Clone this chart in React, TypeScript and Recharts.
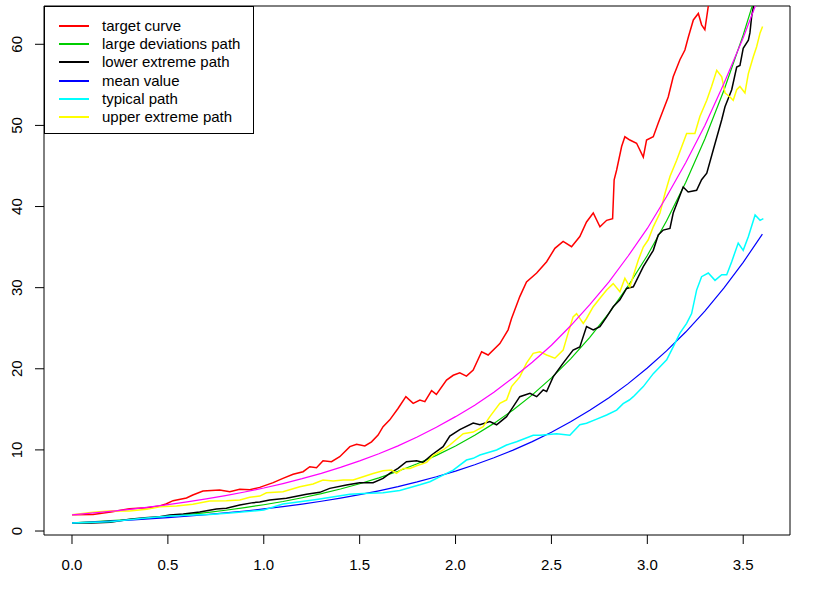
import { LineChart, Line, XAxis, YAxis, ReferenceLine, Legend } from "recharts";

// axis ranges (R style 4% padding around the data)
const X_MIN = -0.146;
const X_MAX = 3.744;
const Y_MIN = -0.49;
const Y_MAX = 64.72;
const X_TICKS = [0, 0.5, 1, 1.5, 2, 2.5, 3, 3.5];
const Y_TICKS = [0, 10, 20, 30, 40, 50, 60];

// smooth curves, read on a 0.1 grid
const tGrid = [0, 0.1, 0.2, 0.3, 0.4, 0.5, 0.6, 0.7, 0.8, 0.9, 1.0, 1.1, 1.2, 1.3, 1.4, 1.5, 1.6, 1.7, 1.8, 1.9, 2.0, 2.1, 2.2, 2.3, 2.4, 2.5, 2.6, 2.7, 2.8, 2.9, 3.0, 3.1, 3.2, 3.3, 3.4, 3.5, 3.6];
const meanValue = [1.0, 1.11, 1.22, 1.35, 1.49, 1.65, 1.82, 2.01, 2.23, 2.46, 2.72, 3.0, 3.32, 3.67, 4.06, 4.48, 4.95, 5.47, 6.05, 6.69, 7.39, 8.17, 9.03, 9.97, 11.02, 12.18, 13.46, 14.88, 16.44, 18.17, 20.09, 22.2, 24.53, 27.11, 29.96, 33.12, 36.6];
const largeDeviations = [1.0, 1.12, 1.27, 1.42, 1.6, 1.8, 2.02, 2.28, 2.56, 2.88, 3.24, 3.64, 4.1, 4.61, 5.18, 5.83, 6.56, 7.37, 8.29, 9.33, 10.49, 11.8, 13.27, 14.92, 16.78, 18.88, 21.23, 23.88, 26.86, 30.21, 33.97, 38.21, 42.97, 48.33, 54.36, 61.14, 68.77];
const magentaCurve = [2.0, 2.2, 2.43, 2.68, 2.95, 3.26, 3.59, 3.96, 4.36, 4.81, 5.3, 5.85, 6.45, 7.11, 7.84, 8.64, 9.53, 10.5, 11.6, 12.8, 14.1, 15.5, 17.1, 18.9, 20.8, 22.9, 25.3, 27.9, 30.7, 33.9, 37.3, 41.2, 45.4, 50.0, 55.2, 60.8, 67.0];

// rough paths, read point by point
const tTarget = [0, 0.11, 0.21, 0.3, 0.39, 0.457, 0.49, 0.527, 0.597, 0.63, 0.683, 0.77, 0.823, 0.875, 0.927, 0.979, 1.049, 1.1, 1.153, 1.205, 1.24, 1.275, 1.309, 1.353, 1.396, 1.449, 1.484, 1.527, 1.562, 1.596, 1.622, 1.657, 1.7, 1.741, 1.779, 1.814, 1.84, 1.875, 1.9, 1.953, 1.988, 2.022, 2.057, 2.092, 2.136, 2.17, 2.231, 2.274, 2.292, 2.335, 2.37, 2.423, 2.475, 2.518, 2.561, 2.605, 2.648, 2.683, 2.718, 2.753, 2.788, 2.819, 2.827, 2.84, 2.866, 2.883, 2.909, 2.944, 2.979, 2.996, 3.031, 3.057, 3.083, 3.109, 3.135, 3.17, 3.196, 3.214, 3.24, 3.266, 3.283, 3.3, 3.31, 3.318, 3.33];
const targetCurve = [2.0, 2.05, 2.38, 2.75, 2.88, 3.08, 3.33, 3.74, 4.07, 4.44, 4.93, 5.05, 4.85, 5.14, 5.1, 5.38, 5.96, 6.49, 6.99, 7.31, 7.93, 7.8, 8.67, 8.55, 9.16, 10.4, 10.7, 10.48, 11.0, 11.83, 12.86, 13.7, 15.1, 16.56, 15.74, 16.15, 15.94, 17.3, 16.85, 18.6, 19.2, 19.5, 19.1, 19.85, 22.1, 21.7, 23.1, 24.8, 26.2, 28.9, 30.7, 31.8, 33.2, 34.85, 35.7, 35.05, 36.3, 38.1, 39.2, 37.5, 38.3, 38.5, 43.3, 44.5, 47.4, 48.6, 48.2, 47.8, 46.1, 48.2, 48.6, 50.3, 51.9, 53.5, 56.0, 58.1, 59.3, 60.9, 63.0, 63.8, 62.4, 61.8, 63.4, 64.7, 66.5];

const tLower = [0, 0.1, 0.2, 0.3, 0.38, 0.457, 0.51, 0.58, 0.666, 0.753, 0.805, 0.875, 0.944, 0.979, 1.031, 1.118, 1.223, 1.292, 1.344, 1.431, 1.5, 1.57, 1.622, 1.657, 1.7, 1.744, 1.797, 1.831, 1.875, 1.935, 1.97, 2.022, 2.092, 2.127, 2.179, 2.214, 2.266, 2.3, 2.335, 2.388, 2.423, 2.457, 2.475, 2.509, 2.561, 2.613, 2.648, 2.683, 2.718, 2.753, 2.788, 2.822, 2.857, 2.892, 2.927, 2.979, 3.031, 3.057, 3.083, 3.118, 3.135, 3.161, 3.187, 3.213, 3.257, 3.283, 3.31, 3.344, 3.388, 3.405, 3.44, 3.466, 3.483, 3.5, 3.527, 3.535, 3.544, 3.553, 3.565];
const lowerExtreme = [1.0, 1.0, 1.07, 1.45, 1.64, 1.76, 1.97, 2.1, 2.34, 2.71, 2.8, 3.2, 3.5, 3.57, 3.82, 4.03, 4.52, 4.77, 5.26, 5.67, 5.96, 5.96, 6.49, 7.1, 7.72, 8.55, 8.67, 8.46, 9.37, 10.4, 11.7, 12.5, 13.3, 13.1, 13.5, 13.1, 14.1, 15.3, 16.56, 16.97, 16.56, 17.4, 17.2, 19.0, 20.7, 22.3, 22.7, 25.2, 24.8, 25.2, 26.4, 27.65, 28.5, 29.9, 30.1, 32.6, 34.6, 36.5, 37.1, 37.3, 39.2, 40.8, 42.4, 41.8, 42.0, 43.3, 44.1, 47.0, 50.7, 52.3, 54.4, 57.2, 57.4, 59.5, 60.5, 61.4, 63.4, 64.6, 66.0];

const tTypical = [0, 0.197, 0.371, 0.51, 0.63, 0.718, 0.84, 0.944, 1.0, 1.1, 1.275, 1.449, 1.518, 1.622, 1.709, 1.814, 1.866, 1.935, 1.988, 2.057, 2.092, 2.127, 2.214, 2.266, 2.318, 2.405, 2.44, 2.527, 2.596, 2.648, 2.683, 2.736, 2.788, 2.84, 2.874, 2.906, 2.927, 2.979, 3.031, 3.066, 3.101, 3.135, 3.17, 3.205, 3.231, 3.257, 3.283, 3.318, 3.353, 3.388, 3.414, 3.44, 3.474, 3.5, 3.527, 3.562, 3.588, 3.605];
const typicalPath = [1.0, 1.15, 1.56, 1.85, 1.97, 2.05, 2.26, 2.47, 2.6, 3.33, 3.9, 4.52, 4.64, 4.72, 5.0, 5.7, 6.08, 6.9, 7.5, 8.75, 8.96, 9.37, 9.99, 10.6, 11.0, 11.8, 11.8, 12.0, 11.8, 13.1, 13.28, 13.8, 14.3, 14.9, 15.7, 16.15, 16.56, 17.8, 19.4, 20.25, 21.1, 22.7, 24.4, 25.6, 26.8, 29.7, 31.35, 31.8, 30.9, 31.6, 31.6, 33.2, 35.5, 34.6, 36.3, 38.95, 38.3, 38.5];

const tUpper = [0, 0.11, 0.21, 0.3, 0.39, 0.457, 0.545, 0.63, 0.718, 0.805, 0.875, 0.927, 0.979, 1.014, 1.1, 1.188, 1.257, 1.309, 1.362, 1.414, 1.466, 1.518, 1.57, 1.622, 1.666, 1.692, 1.727, 1.762, 1.797, 1.849, 1.883, 1.935, 1.97, 2.04, 2.092, 2.144, 2.179, 2.231, 2.266, 2.292, 2.335, 2.37, 2.405, 2.44, 2.475, 2.518, 2.561, 2.587, 2.613, 2.631, 2.666, 2.683, 2.718, 2.753, 2.788, 2.822, 2.857, 2.883, 2.909, 2.953, 2.979, 3.005, 3.031, 3.066, 3.092, 3.118, 3.153, 3.205, 3.248, 3.274, 3.31, 3.335, 3.362, 3.388, 3.405, 3.431, 3.448, 3.466, 3.483, 3.509, 3.527, 3.553, 3.57, 3.588, 3.601];
const upperExtreme = [2.0, 2.3, 2.5, 2.47, 2.67, 3.0, 3.08, 3.29, 3.7, 3.74, 3.82, 4.15, 4.31, 4.72, 4.85, 5.46, 5.79, 6.29, 6.16, 6.29, 6.29, 6.7, 7.1, 7.43, 7.52, 7.1, 7.72, 7.72, 8.05, 8.46, 9.29, 9.99, 10.6, 12.0, 12.2, 12.86, 14.1, 15.74, 16.15, 17.8, 19.0, 20.7, 21.9, 22.1, 21.7, 21.3, 22.3, 24.4, 26.4, 26.8, 25.6, 26.2, 27.65, 28.7, 29.7, 30.5, 29.5, 31.15, 30.1, 33.4, 35.0, 35.9, 37.5, 39.2, 41.6, 43.7, 45.7, 49.0, 49.0, 51.1, 53.1, 54.8, 56.8, 56.0, 54.0, 53.5, 53.1, 54.4, 54.8, 54.0, 56.4, 58.5, 59.7, 61.4, 62.2];

const LEGEND_NAMES = ["target curve", "large deviations path", "lower extreme path", "mean value", "typical path", "upper extreme path"];
const LEGEND_COLORS = ["#FF0000", "#00CD00", "#000000", "#0000FF", "#00FFFF", "#FFFF00"];

const FONT = "'Liberation Sans', Arial, sans-serif";

const toPoints = (ts: number[], vs: number[]) => ts.map((t, i) => ({ t, v: vs[i] }));

const XTick = ({ x, y, payload }: any) => (
  <text x={x} y={y + 26} textAnchor="middle" fontSize={15} fontFamily={FONT} fill="#000">
    {Number(payload.value).toFixed(1)}
  </text>
);

const YTick = ({ x, y, payload }: any) => (
  <text
    transform={`translate(${x - 13.5},${y}) rotate(-90)`}
    textAnchor="middle"
    fontSize={15}
    fontFamily={FONT}
    fill="#000"
  >
    {payload.value}
  </text>
);

const LegendBox = () => (
  <div
    style={{
      width: 210,
      height: 128,
      boxSizing: "border-box",
      border: "1px solid #000",
      background: "#fff",
      position: "relative",
      fontFamily: FONT,
      fontSize: 15,
    }}
  >
    {LEGEND_NAMES.map((name, i) => (
      <div key={name} style={{ position: "absolute", left: 0, top: 10 + i * 18.2, height: 18, width: 208 }}>
        <div style={{ position: "absolute", left: 14, top: 8, width: 30, height: 2, background: LEGEND_COLORS[i] }} />
        <div style={{ position: "absolute", left: 57, top: 0, lineHeight: "18px", whiteSpace: "nowrap", color: "#000" }}>
          {name}
        </div>
      </div>
    ))}
  </div>
);

export default function App() {
  const series = [
    { key: "target", data: toPoints(tTarget, targetCurve), color: LEGEND_COLORS[0], w: 1.5 },
    { key: "large", data: toPoints(tGrid, largeDeviations), color: LEGEND_COLORS[1], w: 1.2 },
    { key: "lower", data: toPoints(tLower, lowerExtreme), color: LEGEND_COLORS[2], w: 1.5 },
    { key: "mean", data: toPoints(tGrid, meanValue), color: LEGEND_COLORS[3], w: 1.2 },
    { key: "typical", data: toPoints(tTypical, typicalPath), color: LEGEND_COLORS[4], w: 1.5 },
    { key: "upper", data: toPoints(tUpper, upperExtreme), color: LEGEND_COLORS[5], w: 1.5 },
    { key: "magenta", data: toPoints(tGrid, magentaCurve), color: "#FF00FF", w: 1.2 },
  ];

  return (
    <div style={{ position: "absolute", left: 0, top: 0, background: "#fff" }}>
      <LineChart width={823} height={593} margin={{ top: 6, right: 33, bottom: 0, left: 0 }}>
        <XAxis
          type="number"
          dataKey="t"
          domain={[X_MIN, X_MAX]}
          allowDataOverflow
          ticks={X_TICKS}
          height={58}
          tickSize={9}
          tickMargin={0}
          tick={<XTick />}
          axisLine={{ stroke: "#000" }}
          tickLine={{ stroke: "#000" }}
        />
        <YAxis
          type="number"
          domain={[Y_MIN, Y_MAX]}
          allowDataOverflow
          ticks={Y_TICKS}
          width={44}
          tickSize={9}
          tickMargin={0}
          tick={<YTick />}
          axisLine={{ stroke: "#000" }}
          tickLine={{ stroke: "#000" }}
        />
        <ReferenceLine y={Y_MAX} stroke="#000" ifOverflow="visible" />
        <ReferenceLine x={X_MAX} stroke="#000" ifOverflow="visible" />
        {series.map((s) => (
          <Line
            key={s.key}
            data={s.data}
            dataKey="v"
            type="linear"
            stroke={s.color}
            strokeWidth={s.w}
            dot={false}
            activeDot={false}
            legendType="none"
            isAnimationActive={false}
          />
        ))}
        <Legend
          layout="vertical"
          align="center"
          verticalAlign="middle"
          wrapperStyle={{ left: 44, top: 6, width: 210, height: 128 }}
          content={() => <LegendBox />}
        />
      </LineChart>
    </div>
  );
}
